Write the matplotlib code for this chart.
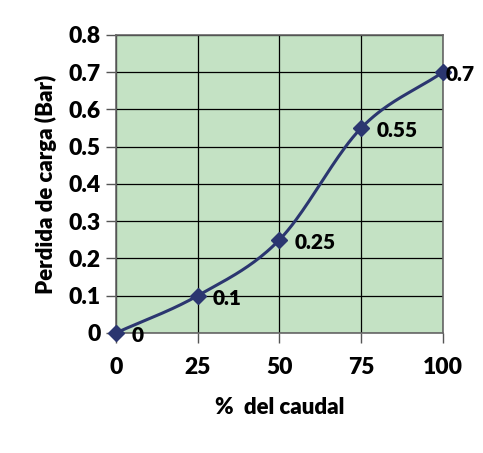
import numpy as np
import matplotlib
matplotlib.use("Agg")
import matplotlib.pyplot as plt

# Data
caudal = [0, 25, 50, 75, 100]
perdida = [0, 0.1, 0.25, 0.55, 0.7]
labels = ["0", "0.1", "0.25", "0.55", "0.7"]
xticks = [0, 25, 50, 75, 100]
yticks = [0, 0.1, 0.2, 0.3, 0.4, 0.5, 0.6, 0.7, 0.8]

plt.rcParams['font.family'] = ['Lato', 'DejaVu Sans']
plt.rcParams['font.weight'] = 'heavy'
W = 'heavy'


def smooth(x, y, n=40):
    # Catmull-Rom through the points, like an Excel smoothed line
    x = np.asarray(x, float)
    y = np.asarray(y, float)
    px = np.concatenate([[2 * x[0] - x[1]], x, [2 * x[-1] - x[-2]]])
    py = np.concatenate([[2 * y[0] - y[1]], y, [2 * y[-1] - y[-2]]])
    xs, ys = [], []
    t = np.linspace(0, 1, n)
    for i in range(1, len(px) - 2):
        for p, out in ((px, xs), (py, ys)):
            p0, p1, p2, p3 = p[i - 1], p[i], p[i + 1], p[i + 2]
            out.extend(0.5 * (2 * p1 + (-p0 + p2) * t
                              + (2 * p0 - 5 * p1 + 4 * p2 - p3) * t ** 2
                              + (-p0 + 3 * p1 - 3 * p2 + p3) * t ** 3))
    return xs, ys


fig = plt.figure(figsize=(4.83, 4.53), dpi=100)
ax = fig.add_axes([0.240, 0.265, 0.677, 0.658])
ax.set_facecolor("#c4e2c4")

sx, sy = smooth(caudal, perdida)
ax.plot(sx, sy, color="#2b3670", lw=2.2, zorder=3, clip_on=False)
ax.plot(caudal, perdida, ls="none", marker="D", ms=8, color="#2b3670",
        zorder=4, clip_on=False)
for i, (x, y, s) in enumerate(zip(caudal, perdida, labels)):
    # last label is pushed against the marker, like Excel does at the edge
    dx = 2 if i == len(labels) - 1 else 11
    ax.annotate(s, (x, y), xytext=(dx, -2), textcoords="offset points",
                ha="left", va="center", fontsize=15, fontweight=W,
                color="black", annotation_clip=False, zorder=5)

ax.set_xlim(0, 100)
ax.set_ylim(0, 0.8)
ax.set_xticks(xticks)
ax.set_yticks(yticks)
ax.set_xticklabels([str(v) for v in xticks])
ax.set_yticklabels(["0"] + [f"{v:.1f}" for v in yticks[1:]])
ax.grid(True, color="black", lw=0.9)
ax.set_axisbelow(True)
ax.tick_params(axis="both", labelsize=16.5, length=7, width=1, color="#555555",
               direction="out")
ax.tick_params(axis="x", pad=10)
ax.tick_params(axis="y", pad=4)
for sp in ax.spines.values():
    sp.set_color("#666666")
    sp.set_linewidth(1.2)

ax.set_xlabel("%  del caudal", fontsize=16, fontweight=W, labelpad=14)
ax.set_ylabel("Perdida de carga (Bar)", fontsize=16, fontweight=W,
              labelpad=8)

fig.savefig("out.png", dpi=100)
